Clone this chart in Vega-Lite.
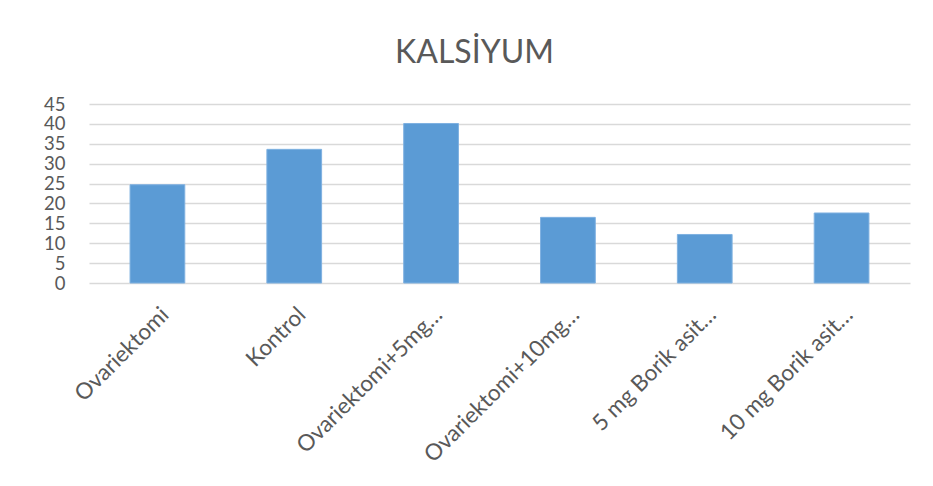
{
  "$schema": "https://vega.github.io/schema/vega-lite/v6.json",
  "width": 821,
  "height": 179,
  "autosize": {"type": "none"},
  "padding": {"left": 89, "top": 104, "right": 23, "bottom": 203},
  "background": "white",
  "title": {
    "text": "KALSİYUM",
    "font": "Lato",
    "fontSize": 32,
    "fontWeight": "normal",
    "color": "#595959",
    "frame": "group",
    "anchor": "middle",
    "baseline": "alphabetic",
    "offset": 0,
    "dx": -25
  },
  "data": {
    "values": [
      {"grup": "Ovariektomi", "deger": 24.7},
      {"grup": "Kontrol", "deger": 33.6},
      {"grup": "Ovariektomi+5mg…", "deger": 40.1},
      {"grup": "Ovariektomi+10mg…", "deger": 16.5},
      {"grup": "5 mg Borik asit…", "deger": 12.2},
      {"grup": "10 mg Borik asit…", "deger": 17.6}
    ]
  },
  "mark": {"type": "bar", "color": "#5B9BD5", "stroke": "#7FB1E1", "strokeWidth": 1},
  "encoding": {
    "x": {
      "field": "grup",
      "type": "nominal",
      "sort": null,
      "scale": {"paddingInner": 0.6, "paddingOuter": 0.3},
      "axis": {
        "title": null,
        "labelAngle": -45,
        "labelFont": "Lato",
        "labelFontSize": 22.5,
        "labelColor": "#595959",
        "labelPadding": 20,
        "labelLimit": 0,
        "ticks": false,
        "domain": false
      }
    },
    "y": {
      "field": "deger",
      "type": "quantitative",
      "scale": {"domain": [0, 45], "nice": false},
      "axis": {
        "title": null,
        "values": [0, 5, 10, 15, 20, 25, 30, 35, 40, 45],
        "grid": true,
        "gridColor": "#D9D9D9",
        "gridWidth": 1.5,
        "domain": false,
        "ticks": false,
        "labelPadding": 24,
        "labelFont": "Lato",
        "labelFontSize": 18.5,
        "labelColor": "#595959"
      }
    }
  },
  "config": {"view": {"stroke": null}}
}
